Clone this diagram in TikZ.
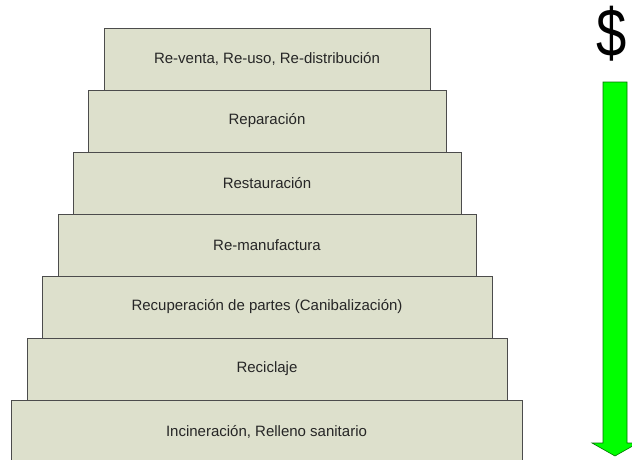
\documentclass[tikz,border=0pt]{standalone}
\usepackage{fontspec}
\setmainfont{Liberation Sans}
\begin{document}
\begin{tikzpicture}[x=1pt,y=-1pt,
  stepbox/.style={draw=black!70,fill=boxfill,line width=0.8pt,inner sep=0pt,font=\fontsize{15}{17}\selectfont,text=black!85},
  greenarrow/.style={fill=arrowgreen,draw=black!55!green,line width=0.6pt}]
\definecolor{boxfill}{RGB}{221,224,204}
\definecolor{arrowgreen}{RGB}{0,255,0}
\useasboundingbox (0,0) rectangle (632,459);
\begin{scope}
\clip (0,0) rectangle (632,459);
\draw[stepbox] (11,400) rectangle (522,461) node[midway,yshift=-1pt] (s7) {Incineración, Relleno sanitario};
\draw[stepbox] (27,338) rectangle (507,400) node[midway] (s6) {Reciclaje};
\draw[stepbox] (42,276) rectangle (492,338) node[midway] (s5) {Recuperación de partes (Canibalización)};
\draw[stepbox] (58,214) rectangle (476,276) node[midway] (s4) {Re-manufactura};
\draw[stepbox] (73,152) rectangle (461,214) node[midway] (s3) {Restauración};
\draw[stepbox] (88,90) rectangle (446,152) node[midway] (s2) {Reparación};
\draw[stepbox] (104,28) rectangle (430,90) node[midway] (s1) {Re-venta, Re-uso, Re-distribución};
\draw[greenarrow] (603,82) -- (627,82) -- (627,443) -- (638,443) -- (615,456) -- (592,443) -- (603,443) -- cycle;
\end{scope}
\node[font=\fontsize{68}{72}\selectfont,inner sep=0pt,xscale=0.8] (dollar) at (611.5,34) {\$};
\end{tikzpicture}
\end{document}
